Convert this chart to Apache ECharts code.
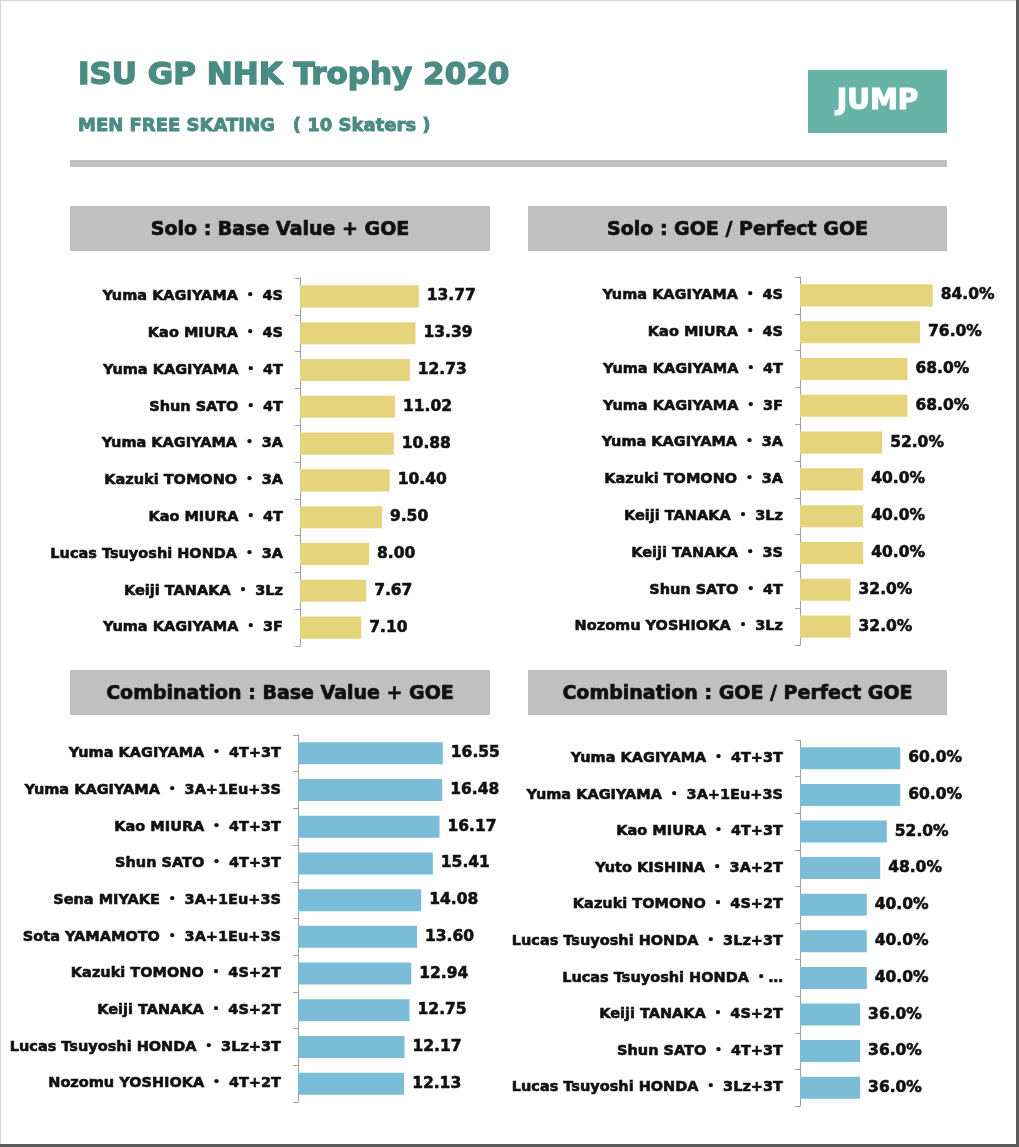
<!DOCTYPE html>
<html>
<head>
<meta charset="utf-8">
<script src="https://cdn.jsdelivr.net/npm/echarts@6/dist/echarts.min.js"></script>
<style>
html,body{margin:0;padding:0;background:#fff;}
#chart{width:1019px;height:1147px;}
</style>
</head>
<body>
<div id="chart"></div>
<script>
// ---- Data ----
const soloBVNames = [
  "Yuma KAGIYAMA ・ 4S", "Kao MIURA ・ 4S", "Yuma KAGIYAMA ・ 4T", "Shun SATO ・ 4T",
  "Yuma KAGIYAMA ・ 3A", "Kazuki TOMONO ・ 3A", "Kao MIURA ・ 4T",
  "Lucas Tsuyoshi HONDA ・ 3A", "Keiji TANAKA ・ 3Lz", "Yuma KAGIYAMA ・ 3F"
];
const soloBVValues = [13.77, 13.39, 12.73, 11.02, 10.88, 10.40, 9.50, 8.00, 7.67, 7.10];

const soloGoeNames = [
  "Yuma KAGIYAMA ・ 4S", "Kao MIURA ・ 4S", "Yuma KAGIYAMA ・ 4T", "Yuma KAGIYAMA ・ 3F",
  "Yuma KAGIYAMA ・ 3A", "Kazuki TOMONO ・ 3A", "Keiji TANAKA ・ 3Lz", "Keiji TANAKA ・ 3S",
  "Shun SATO ・ 4T", "Nozomu YOSHIOKA ・ 3Lz"
];
const soloGoeValues = [84.0, 76.0, 68.0, 68.0, 52.0, 40.0, 40.0, 40.0, 32.0, 32.0];

const comboBVNames = [
  "Yuma KAGIYAMA ・ 4T+3T", "Yuma KAGIYAMA ・ 3A+1Eu+3S", "Kao MIURA ・ 4T+3T",
  "Shun SATO ・ 4T+3T", "Sena MIYAKE ・ 3A+1Eu+3S", "Sota YAMAMOTO ・ 3A+1Eu+3S",
  "Kazuki TOMONO ・ 4S+2T", "Keiji TANAKA ・ 4S+2T", "Lucas Tsuyoshi HONDA ・ 3Lz+3T",
  "Nozomu YOSHIOKA ・ 4T+2T"
];
const comboBVValues = [16.55, 16.48, 16.17, 15.41, 14.08, 13.60, 12.94, 12.75, 12.17, 12.13];

const comboGoeNames = [
  "Yuma KAGIYAMA ・ 4T+3T", "Yuma KAGIYAMA ・ 3A+1Eu+3S", "Kao MIURA ・ 4T+3T",
  "Yuto KISHINA ・ 3A+2T", "Kazuki TOMONO ・ 4S+2T", "Lucas Tsuyoshi HONDA ・ 3Lz+3T",
  "Lucas Tsuyoshi HONDA ・…", "Keiji TANAKA ・ 4S+2T", "Shun SATO ・ 4T+3T",
  "Lucas Tsuyoshi HONDA ・ 3Lz+3T"
];
const comboGoeValues = [60.0, 60.0, 52.0, 48.0, 40.0, 40.0, 40.0, 36.0, 36.0, 36.0];

const titleText = "ISU GP NHK Trophy 2020";
const subtitleText = "MEN FREE SKATING\u3000( 10 Skaters )";
const badgeText = "JUMP";
const panelTitles = [
  "Solo : Base Value + GOE", "Solo : GOE / Perfect GOE",
  "Combination : Base Value + GOE", "Combination : GOE / Perfect GOE"
];

// ---- Styles ----
const FONT = '"DejaVu Sans", "Noto Sans CJK JP", sans-serif';
const TEAL = '#4a8b83';
const BADGE = '#67b3a7';
const GREY = '#c0c0c0';
const YELLOW = '#e6d47c';
const BLUE = '#7bbdd7';
const TXT = '#111111';

const panels = [
  {names: soloBVNames, values: soloBVValues, color: YELLOW, left: 300, top: 278, height: 368, width: 138, max: 16, fmt: v => v.toFixed(2)},
  {names: soloGoeNames, values: soloGoeValues, color: YELLOW, left: 800, top: 277, height: 368, width: 158, max: 100, fmt: v => v.toFixed(1) + '%'},
  {names: comboBVNames, values: comboBVValues, color: BLUE, left: 298, top: 735, height: 367, width: 157.5, max: 18, fmt: v => v.toFixed(2)},
  {names: comboGoeNames, values: comboGoeValues, color: BLUE, left: 800, top: 740, height: 366, width: 167, max: 100, fmt: v => v.toFixed(1) + '%'}
];

const grid = [], xAxis = [], yAxis = [], series = [];
panels.forEach((p, i) => {
  grid.push({left: p.left, top: p.top, width: p.width, height: p.height, containLabel: false});
  xAxis.push({type: 'value', gridIndex: i, min: 0, max: p.max, show: false});
  yAxis.push({
    type: 'category', gridIndex: i, inverse: true, data: p.names,
    axisLine: {show: true, lineStyle: {color: '#a0a0a0', width: 1}},
    axisTick: {show: true, length: 5, lineStyle: {color: '#a0a0a0'}},
    axisLabel: {color: TXT, fontFamily: FONT, fontWeight: 'bold', fontSize: 14.5, margin: 17, interval: 0,
      textBorderColor: TXT, textBorderWidth: 0.6},
    splitLine: {show: false}
  });
  series.push({
    type: 'bar', xAxisIndex: i, yAxisIndex: i, data: p.values,
    barCategoryGap: '40%',
    itemStyle: {color: p.color},
    label: {show: true, position: 'right', distance: 8, color: TXT, fontFamily: FONT, fontWeight: 'bold', fontSize: 15.5,
      textBorderColor: TXT, textBorderWidth: 0.6,
      formatter: prm => p.fmt(prm.value)},
    silent: true, animation: false
  });
});

const headerBoxes = [
  {x: 70, y: 206, w: 420, h: 45}, {x: 528, y: 206, w: 419, h: 45},
  {x: 70, y: 670, w: 420, h: 45}, {x: 528, y: 670, w: 419, h: 45}
];

const graphic = [
  // frame
  {type: 'rect', shape: {x: 0, y: 0, width: 1019, height: 1}, style: {fill: '#d4d4d4'}},
  {type: 'rect', shape: {x: 0, y: 0, width: 1, height: 1147}, style: {fill: '#d4d4d4'}},
  {type: 'rect', shape: {x: 1016, y: 0, width: 3, height: 1147}, style: {fill: '#5a5a5a'}},
  {type: 'rect', shape: {x: 0, y: 1144, width: 1019, height: 3}, style: {fill: '#5a5a5a'}},
  // title
  {type: 'text', x: 78, y: 76, style: {text: titleText, fill: TEAL, font: 'bold 31px ' + FONT, textVerticalAlign: 'middle',
    stroke: TEAL, lineWidth: 1.4}},
  {type: 'text', x: 78, y: 126, style: {text: subtitleText, fill: TEAL, font: 'bold 18px ' + FONT, textVerticalAlign: 'middle',
    stroke: TEAL, lineWidth: 0.9}},
  // badge
  {type: 'rect', shape: {x: 808, y: 70, width: 139, height: 63}, style: {fill: BADGE}},
  {type: 'text', x: 877.5, y: 102, style: {text: badgeText, fill: '#ffffff', font: 'bold 28px ' + FONT, textAlign: 'center', textVerticalAlign: 'middle',
    stroke: '#ffffff', lineWidth: 1.2}},
  // rule
  {type: 'rect', shape: {x: 70, y: 160, width: 877, height: 7}, style: {fill: GREY}}
];
headerBoxes.forEach((b, i) => {
  graphic.push({type: 'rect', shape: {x: b.x, y: b.y, width: b.w, height: b.h}, style: {fill: GREY}});
  graphic.push({type: 'text', x: b.x + b.w / 2, y: b.y + b.h / 2 + 2,
    style: {text: panelTitles[i], fill: TXT, font: 'bold 19px ' + FONT, textAlign: 'center', textVerticalAlign: 'middle',
      stroke: TXT, lineWidth: 0.7}});
});

const chart = echarts.init(document.getElementById('chart'), null, {renderer: 'canvas'});
chart.setOption({
  backgroundColor: '#ffffff',
  animation: false,
  grid, xAxis, yAxis, series, graphic
});
</script>
</body>
</html>
